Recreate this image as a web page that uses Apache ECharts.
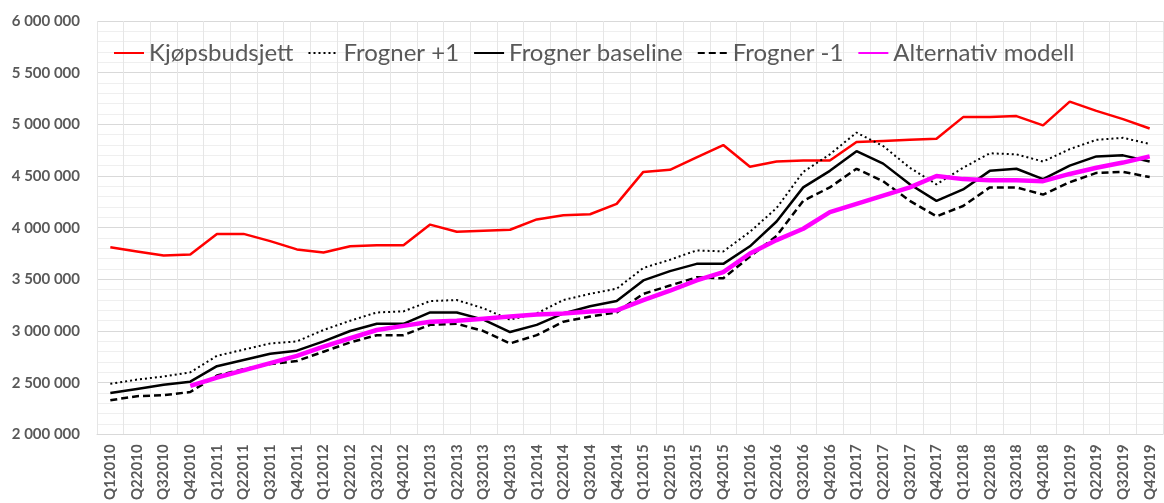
<!DOCTYPE html>
<html>
<head>
    <meta charset="UTF-8">
    <title>Kjøpsbudsjett Frogner</title>
    <script src="https://cdn.jsdelivr.net/npm/echarts@6/dist/echarts.min.js"></script>
    <style>
        html, body { margin: 0; padding: 0; background: #fff; }
    </style>
</head>
<body>
<div id="main" style="width:1164px;height:503px;"></div>
<script>
    // kvartaler
    var quarters = [];
    for (var y = 2010; y <= 2019; y++) {
        for (var q = 1; q <= 4; q++) quarters.push('Q' + q + y);
    }

    var kjopsbudsjett = [3810000, 3770000, 3730000, 3740000, 3940000, 3940000, 3870000, 3790000, 3760000, 3820000,
        3830000, 3830000, 4030000, 3960000, 3970000, 3980000, 4080000, 4120000, 4130000, 4230000,
        4540000, 4560000, 4680000, 4800000, 4590000, 4640000, 4650000, 4650000, 4830000, 4840000,
        4850000, 4860000, 5070000, 5070000, 5080000, 4990000, 5220000, 5130000, 5050000, 4960000];

    var frognerPluss = [2490000, 2530000, 2560000, 2600000, 2760000, 2820000, 2880000, 2900000, 3010000, 3100000,
        3180000, 3190000, 3290000, 3300000, 3220000, 3110000, 3170000, 3300000, 3360000, 3410000,
        3610000, 3690000, 3780000, 3770000, 3960000, 4190000, 4540000, 4710000, 4920000, 4790000,
        4580000, 4420000, 4580000, 4720000, 4710000, 4640000, 4760000, 4850000, 4870000, 4810000];

    var frognerBase = [2400000, 2440000, 2480000, 2510000, 2660000, 2720000, 2780000, 2810000, 2900000, 3000000,
        3070000, 3070000, 3180000, 3180000, 3110000, 2990000, 3060000, 3170000, 3240000, 3290000,
        3490000, 3580000, 3650000, 3650000, 3820000, 4060000, 4390000, 4550000, 4740000, 4620000,
        4420000, 4260000, 4370000, 4550000, 4570000, 4470000, 4600000, 4690000, 4700000, 4640000];

    var frognerMinus = [2330000, 2370000, 2380000, 2410000, 2570000, 2630000, 2680000, 2710000, 2800000, 2890000,
        2960000, 2960000, 3060000, 3070000, 3000000, 2880000, 2960000, 3090000, 3140000, 3180000,
        3360000, 3440000, 3520000, 3510000, 3720000, 3920000, 4260000, 4390000, 4570000, 4450000,
        4260000, 4110000, 4210000, 4390000, 4390000, 4320000, 4440000, 4530000, 4540000, 4490000];

    var alternativ = [null, null, null, 2470000, 2550000, 2620000, 2690000, 2760000, 2850000, 2930000,
        3010000, 3050000, 3090000, 3100000, 3120000, 3140000, 3160000, 3170000, 3190000, 3200000,
        3300000, 3390000, 3490000, 3570000, 3750000, 3880000, 3990000, 4150000, 4230000, 4310000,
        4390000, 4500000, 4470000, 4460000, 4460000, 4450000, 4520000, 4580000, 4630000, 4690000];

    var grey = '#595959';

    var myChart = echarts.init(document.getElementById('main'));
    var option = {
        animation: false,
        textStyle: { fontFamily: 'Lato' },
        legend: {
            top: 36,
            left: 108,
            itemWidth: 30,
            itemHeight: 14,
            itemGap: 14,
            itemStyle: { opacity: 0 },
            textStyle: { color: grey, fontSize: 24, fontFamily: 'Lato' },
            data: ['Kjøpsbudsjett', 'Frogner +1', 'Frogner baseline', 'Frogner -1', 'Alternativ modell']
        },
        grid: { left: 97, right: 1, top: 21, bottom: 66 },
        xAxis: {
            type: 'category',
            data: quarters,
            boundaryGap: true,
            axisLine: { lineStyle: { color: '#d9d9d9' } },
            axisTick: { show: false },
            splitLine: { show: true, interval: 0, lineStyle: { color: '#e6e6e6' } },
            axisLabel: {
                interval: 0, rotate: 90, margin: 10,
                color: grey, fontSize: 15, fontWeight: 'bold', fontFamily: 'Lato'
            }
        },
        yAxis: {
            type: 'value',
            min: 2000000,
            max: 6000000,
            interval: 500000,
            axisLine: { show: false },
            axisTick: { show: false },
            splitLine: { lineStyle: { color: '#d9d9d9' } },
            minorTick: { show: false, splitNumber: 5 },
            minorSplitLine: { show: true, lineStyle: { color: '#efefef' } },
            axisLabel: {
                margin: 17, color: grey, fontSize: 15, fontWeight: 'bold', fontFamily: 'Lato',
                formatter: function (v) {
                    return String(v).replace(/\B(?=(\d{3})+(?!\d))/g, ' ');
                }
            }
        },
        series: [
            {
                name: 'Kjøpsbudsjett', type: 'line', data: kjopsbudsjett, symbol: 'none',
                itemStyle: { color: '#ff0000' }, lineStyle: { color: '#ff0000', width: 2.5 }
            },
            {
                name: 'Frogner +1', type: 'line', data: frognerPluss, symbol: 'none',
                itemStyle: { color: '#000' }, lineStyle: { color: '#000', width: 2, type: [2, 3] }
            },
            {
                name: 'Frogner baseline', type: 'line', data: frognerBase, symbol: 'none',
                itemStyle: { color: '#000' }, lineStyle: { color: '#000', width: 2.5 }
            },
            {
                name: 'Frogner -1', type: 'line', data: frognerMinus, symbol: 'none',
                itemStyle: { color: '#000' }, lineStyle: { color: '#000', width: 2.5, type: [7, 4] }
            },
            {
                name: 'Alternativ modell', type: 'line', data: alternativ, symbol: 'none',
                itemStyle: { color: '#ff00ff' }, lineStyle: { color: '#ff00ff', width: 4.5 }, z: 3
            }
        ]
    };

    myChart.setOption(option);
</script>
</body>
</html>
